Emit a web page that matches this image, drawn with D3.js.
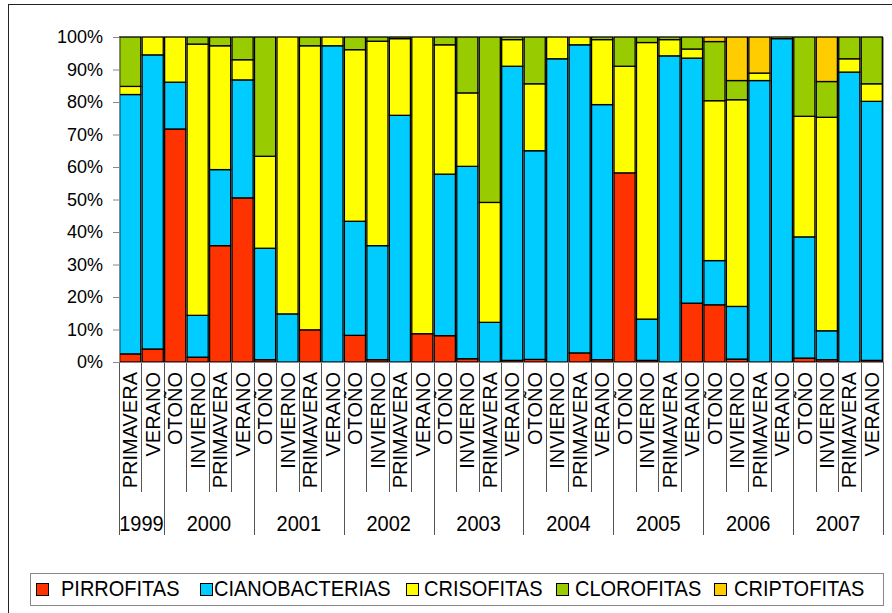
<!DOCTYPE html>
<html>
<head>
<meta charset="utf-8">
<script src="https://cdn.jsdelivr.net/npm/d3@7"></script>
<style>
    body { margin: 0; background: #fff; }
    svg { font-family: "Liberation Sans", Arial, sans-serif; }
</style>
</head>
<body>
<svg id="chart" width="892" height="613"></svg>
<script>
// data
const years = ["1999", "2000", "2001", "2002", "2003", "2004", "2005", "2006", "2007"];
const seasons = [
    "PRIMAVERA", "VERANO",
    "OTOÑO", "INVIERNO", "PRIMAVERA", "VERANO",
    "OTOÑO", "INVIERNO", "PRIMAVERA", "VERANO",
    "OTOÑO", "INVIERNO", "PRIMAVERA", "VERANO",
    "OTOÑO", "INVIERNO", "PRIMAVERA", "VERANO",
    "OTOÑO", "INVIERNO", "PRIMAVERA", "VERANO",
    "OTOÑO", "INVIERNO", "PRIMAVERA", "VERANO",
    "OTOÑO", "INVIERNO", "PRIMAVERA", "VERANO",
    "OTOÑO", "INVIERNO", "PRIMAVERA", "VERANO"
];
const seasonYear = [
    "1999", "1999",
    "2000", "2000", "2000", "2000",
    "2001", "2001", "2001", "2001",
    "2002", "2002", "2002", "2002",
    "2003", "2003", "2003", "2003",
    "2004", "2004", "2004", "2004",
    "2005", "2005", "2005", "2005",
    "2006", "2006", "2006", "2006",
    "2007", "2007", "2007", "2007"
];
const groups = ["PIRROFITAS", "CIANOBACTERIAS", "CRISOFITAS", "CLOROFITAS", "CRIPTOFITAS"];
const pirrofitas = [2.5, 4, 71.7, 1.5, 35.8, 50.5, 0.7, 0, 9.9, 0, 8.2, 0.7, 0, 8.7, 8.1, 1, 0, 0.5, 0.8, 0, 2.8, 0.7, 58.2, 0.5, 0, 18.1, 17.6, 0.9, 0, 0, 1.2, 0.7, 0, 0.5];
const cianobacterias = [79.8, 90.5, 14.4, 13, 23.4, 36.3, 34.3, 14.8, 0, 97.3, 35.1, 35.1, 75.9, 0, 49.7, 59.2, 12.2, 90.5, 64.2, 93.3, 94.8, 78.5, 0, 12.7, 94.2, 75.4, 13.6, 16.2, 86.6, 99.5, 37.3, 8.9, 89.2, 79.7];
const crisofitas = [2.5, 5.5, 13.9, 84.3, 38.1, 6.2, 28.3, 85.2, 87.4, 2.7, 52.8, 62.9, 23.6, 91.3, 39.8, 22.6, 36.9, 8.2, 20.6, 6.7, 2.4, 20, 32.8, 85.1, 5, 2.8, 49.2, 63.6, 2.3, 0.5, 37.1, 65.7, 4.1, 5.4];
const clorofitas = [15.2, 0, 0, 2.2, 2.7, 7, 36.7, 0, 2.7, 0, 3.9, 1.3, 0.5, 0, 2.4, 17.2, 50.9, 0.8, 14.4, 0, 0, 0.8, 9, 1.7, 0.8, 3.7, 18.2, 5.9, 0, 0, 24.4, 11, 6.7, 14.4];
const criptofitas = [0, 0, 0, 0, 0, 0, 0, 0, 0, 0, 0, 0, 0, 0, 0, 0, 0, 0, 0, 0, 0, 0, 0, 0, 0, 0, 1.4, 13.4, 11.1, 0, 0, 13.7, 0, 0];
const yTicks = [0, 10, 20, 30, 40, 50, 60, 70, 80, 90, 100];
const colors = ["#ff3300", "#00ccff", "#ffff00", "#99cc00", "#ffcc00"];

// build rows for the stack
const rows = seasons.map((s, i) => ({
    idx: i,
    PIRROFITAS: pirrofitas[i],
    CIANOBACTERIAS: cianobacterias[i],
    CRISOFITAS: crisofitas[i],
    CLOROFITAS: clorofitas[i],
    CRIPTOFITAS: criptofitas[i]
}));
const series = d3.stack().keys(groups).offset(d3.stackOffsetExpand)(rows);

const svg = d3.select("#chart");
const plotLeft = 119, plotRight = 883, plotTop = 37, plotBottom = 362;

// outer frame
svg.append("rect")
    .attr("x", 8.5).attr("y", 4.5)
    .attr("width", 900).attr("height", 700)
    .attr("fill", "none").attr("stroke", "#222");

const x = d3.scaleBand()
    .domain(seasons.map((s, i) => i))
    .range([plotLeft, plotRight])
    .paddingInner(0.06)
    .paddingOuter(0.03);
const y = d3.scaleLinear().domain([0, 1]).range([plotBottom, plotTop]);
const color = d3.scaleOrdinal().domain(groups).range(colors);

// plot frame
svg.append("path")
    .attr("d", `M${plotLeft},${plotTop + 0.5}H${plotRight + 0.5}V${plotBottom}`)
    .attr("fill", "none").attr("stroke", "#999");

// bars
svg.append("g")
    .selectAll("g")
    .data(series)
    .join("g")
    .attr("fill", (d) => color(d.key))
    .selectAll("rect")
    .data((d) => d)
    .join("rect")
    .attr("x", (d) => x(d.data.idx))
    .attr("y", (d) => y(d[1]))
    .attr("width", x.bandwidth())
    .attr("height", (d) => Math.max(0, y(d[0]) - y(d[1])))
    .attr("stroke", "#000")
    .attr("stroke-width", 1.3);

// y axis
const yAxis = d3.axisLeft(d3.scaleLinear().domain([0, 100]).range([plotBottom, plotTop]))
    .tickValues(yTicks)
    .tickSize(6)
    .tickPadding(10)
    .tickFormat((d) => d + "%");
const yg = svg.append("g")
    .attr("transform", `translate(${plotLeft},0)`)
    .call(yAxis);
yg.select(".domain").attr("stroke", "#888");
yg.selectAll(".tick line").attr("stroke", "#888");
yg.selectAll("text")
    .attr("font-size", 18)
    .attr("font-family", "Liberation Sans, Arial, sans-serif")
    .attr("fill", "#000");

// x axis: category separators
const catW = (plotRight - plotLeft) / seasons.length;
const sep = svg.append("g").attr("stroke", "#555").attr("stroke-width", 1);
d3.range(seasons.length + 1).forEach((i) => {
    const xx = Math.round(plotLeft + i * catW) + 0.5;
    const yearEdge = i === 0 || i === seasons.length || seasonYear[i] !== seasonYear[i - 1];
    sep.append("line")
        .attr("x1", xx).attr("x2", xx)
        .attr("y1", plotBottom).attr("y2", yearEdge ? 535 : 492);
});
svg.append("line")
    .attr("x1", plotLeft).attr("x2", plotRight)
    .attr("y1", plotBottom + 0.5).attr("y2", plotBottom + 0.5)
    .attr("stroke", "#888");

// category labels
svg.append("g")
    .selectAll("text")
    .data(seasons)
    .join("text")
    .attr("transform", (d, i) => `translate(${plotLeft + (i + 0.5) * catW},372) rotate(-90)`)
    .attr("dy", "0.36em")
    .attr("text-anchor", "end")
    .attr("font-size", 20)
    .text((d) => d);

// year labels
svg.append("g")
    .selectAll("text")
    .data(years)
    .join("text")
    .attr("transform", (yr) => {
        const idx = seasonYear.map((v, i) => (v === yr ? i : -1)).filter((i) => i >= 0);
        const cx = plotLeft + ((idx[0] + idx[idx.length - 1] + 1) / 2) * catW;
        return `translate(${cx},531) scale(1,1.1)`;
    })
    .attr("text-anchor", "middle")
    .attr("font-size", 20)
    .text((d) => d);

// legend
const legend = svg.append("g");
legend.append("rect")
    .attr("x", 30.5).attr("y", 573.5)
    .attr("width", 853).attr("height", 32)
    .attr("fill", "#fff").attr("stroke", "#888");
const swatchX = [36, 200, 406, 556, 714];
const labelX = [61, 214, 424, 575, 734];
groups.forEach((g, i) => {
    legend.append("rect")
        .attr("x", swatchX[i] + 0.5).attr("y", 583.5)
        .attr("width", 12).attr("height", 12)
        .attr("fill", colors[i]).attr("stroke", "#000");
    legend.append("text")
        .attr("transform", `translate(${labelX[i]},596) scale(1,1.1)`)
        .attr("font-size", 20)
        .text(g);
});
</script>
</body>
</html>
